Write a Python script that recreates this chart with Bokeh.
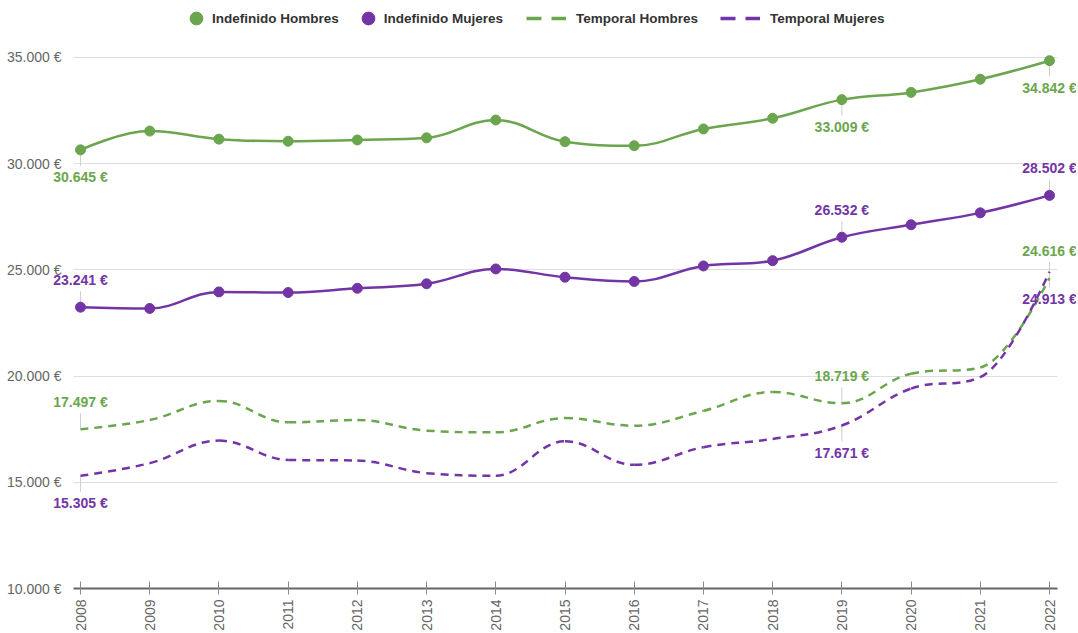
import numpy as np
from bokeh.plotting import figure
from bokeh.models import ColumnDataSource, Range1d, FixedTicker, Legend, LegendItem
from bokeh.core.properties import value
from bokeh.embed import file_html
from bokeh.resources import INLINE

# ---------------- data ----------------
years = list(range(2008, 2023))
indefinido_hombres = [30645, 31530, 31150, 31050, 31110, 31210, 32050, 31030, 30840, 31630, 32130, 33009, 33350, 33970, 34842]
indefinido_mujeres = [23241, 23180, 23960, 23930, 24130, 24340, 25040, 24650, 24450, 25180, 25430, 26532, 27120, 27680, 28502]
temporal_hombres = [17497, 17930, 18830, 17820, 17930, 17430, 17350, 18020, 17660, 18360, 19250, 18719, 20110, 20400, 24616]
temporal_mujeres = [15305, 15900, 16960, 16050, 16020, 15430, 15310, 16930, 15820, 16650, 17040, 17671, 19410, 19950, 24913]

series_names = ["Indefinido Hombres", "Indefinido Mujeres", "Temporal Hombres", "Temporal Mujeres"]
y_ticks = [10000, 15000, 20000, 25000, 30000, 35000]
y_tick_labels = ["10.000 €", "15.000 €", "20.000 €", "25.000 €", "30.000 €", "35.000 €"]
labelled_years = [2008, 2019, 2022]

GREEN = "#6ba64e"
PURPLE = "#7335a6"
FONT = "Liberation Sans"


def fmt_eur(v):
    return f"{v:,}".replace(",", ".") + " €"


def spline_segments(xs, ys, smoothing=1.5):
    """Cubic bezier control points (Highcharts-like spline smoothing)."""
    n = len(xs)
    denom = smoothing + 1
    lx, ly = list(map(float, xs)), list(map(float, ys))
    rx, ry = list(map(float, xs)), list(map(float, ys))
    for i in range(1, n - 1):
        x, y = xs[i], ys[i]
        xl, yl = xs[i - 1], ys[i - 1]
        xn, yn = xs[i + 1], ys[i + 1]
        lcx = (smoothing * x + xl) / denom
        lcy = (smoothing * y + yl) / denom
        rcx = (smoothing * x + xn) / denom
        rcy = (smoothing * y + yn) / denom
        corr = ((rcy - lcy) * (rcx - x)) / (rcx - lcx) + y - rcy
        lcy += corr
        rcy += corr
        if lcy > yl and lcy > y:
            lcy = max(yl, y); rcy = 2 * y - lcy
        elif lcy < yl and lcy < y:
            lcy = min(yl, y); rcy = 2 * y - lcy
        if rcy > yn and rcy > y:
            rcy = max(yn, y); lcy = 2 * y - rcy
        elif rcy < yn and rcy < y:
            rcy = min(yn, y); lcy = 2 * y - rcy
        lx[i], ly[i], rx[i], ry[i] = lcx, lcy, rcx, rcy
    return ColumnDataSource(dict(
        x0=xs[:-1], y0=ys[:-1], x1=xs[1:], y1=ys[1:],
        cx0=rx[:-1], cy0=ry[:-1], cx1=lx[1:], cy1=ly[1:],
    ))


# ---------------- figure ----------------
PX_PER_YEAR = 969 / 14.0
PX_PER_EUR = 533 / 25000.0
FRAME_W, FRAME_H = 984, 582

x_start = 2008 - 7 / PX_PER_YEAR
x_end = x_start + FRAME_W / PX_PER_YEAR
y_end = 10000 + FRAME_H / PX_PER_EUR

p = figure(width=1076, height=633,
           x_range=Range1d(x_start, x_end), y_range=Range1d(10000, y_end),
           output_backend="svg", toolbar_location=None,
           min_border_left=73, min_border_right=19, min_border_top=8, min_border_bottom=43)
p.outline_line_color = None
p.background_fill_color = "white"
p.border_fill_color = "white"

p.xgrid.grid_line_color = None
p.ygrid.grid_line_color = "#dedede"
p.ygrid.grid_line_width = 1

p.xaxis.ticker = FixedTicker(ticks=years)
p.xaxis.major_label_orientation = np.pi / 2
p.xaxis.axis_line_color = "#666666"
p.xaxis.axis_line_width = 2
p.xaxis.major_tick_line_color = "#8a8a8a"
p.xaxis.major_tick_in = 7
p.xaxis.major_tick_out = 6
p.xaxis.minor_tick_line_color = None
p.xaxis.major_label_text_font = FONT
p.xaxis.major_label_text_font_size = "14px"
p.xaxis.major_label_text_color = "#666666"
p.xaxis.major_label_standoff = 5

p.yaxis.ticker = FixedTicker(ticks=y_ticks)
p.yaxis.major_label_overrides = {t: lab for t, lab in zip(y_ticks, y_tick_labels)}
p.yaxis.axis_line_color = None
p.yaxis.major_tick_line_color = None
p.yaxis.minor_tick_line_color = None
p.yaxis.major_label_text_font = FONT
p.yaxis.major_label_text_font_size = "14px"
p.yaxis.major_label_text_color = "#666666"
p.yaxis.major_label_standoff = 6

# ---------------- series ----------------
series = [
    (series_names[0], indefinido_hombres, GREEN, "solid", 1),
    (series_names[1], indefinido_mujeres, PURPLE, "solid", -1),
    (series_names[2], temporal_hombres, GREEN, "8 6", -1),
    (series_names[3], temporal_mujeres, PURPLE, "8 6", 1),
]

LABEL_OFFSET_PX = 27
CONNECTOR_PX = 16

legend_circle_items = []
legend_dash_items = []

for name, vals, color, dash, direction in series:
    lab_v = [vals[years.index(y)] for y in labelled_years]
    conn = ColumnDataSource(dict(
        x=labelled_years, y0=lab_v,
        y1=[v - direction * (CONNECTOR_PX / PX_PER_EUR) for v in lab_v],
    ))
    p.segment(x0="x", y0="y0", x1="x", y1="y1", source=conn,
              line_color="#cfcfcf", line_width=1)

for name, vals, color, dash, direction in series:
    src = spline_segments(years, vals)
    p.bezier(x0="x0", y0="y0", x1="x1", y1="y1", cx0="cx0", cy0="cy0", cx1="cx1", cy1="cy1",
             source=src, line_color=color, line_width=2.5, line_dash=dash)
    if dash == "solid":
        pts = p.scatter(x=years, y=vals, size=10, marker="circle",
                        fill_color=color, line_color=color)
        legend_circle_items.append(LegendItem(label=name, renderers=[pts]))
    else:
        dummy = p.line(x=[years[0]], y=[float("nan")], line_color=color,
                       line_width=3.5, line_dash="15 10")
        legend_dash_items.append(LegendItem(label=name, renderers=[dummy]))

for name, vals, color, dash, direction in series:
    lab_v = [vals[years.index(y)] for y in labelled_years]
    lsrc = ColumnDataSource(dict(
        x=labelled_years, y=lab_v, text=[fmt_eur(v) for v in lab_v],
    ))
    r = p.text(x="x", y="y", text="text", source=lsrc,
               y_offset=direction * LABEL_OFFSET_PX,
               text_color=color, text_font=value(FONT), text_font_style="bold",
               text_font_size="14px", text_align="center", text_baseline="middle")
    r.level = "overlay"

# ---------------- legends ----------------
common = dict(orientation="horizontal", padding=0, margin=0,
              border_line_color=None, background_fill_alpha=0,
              label_text_font=FONT, label_text_font_style="bold",
              label_text_font_size="13.5px", label_text_color="#333333",
              label_height=32, glyph_height=32)

leg1 = Legend(items=legend_circle_items, location=(107, 554),
              glyph_width=32, label_standoff=0, spacing=13, **common)
leg2 = Legend(items=legend_dash_items, location=(453, 554),
              glyph_width=40, label_standoff=10, spacing=22, **common)
p.add_layout(leg1)
p.add_layout(leg2)

open("out.html", "w").write(file_html(p, INLINE))
